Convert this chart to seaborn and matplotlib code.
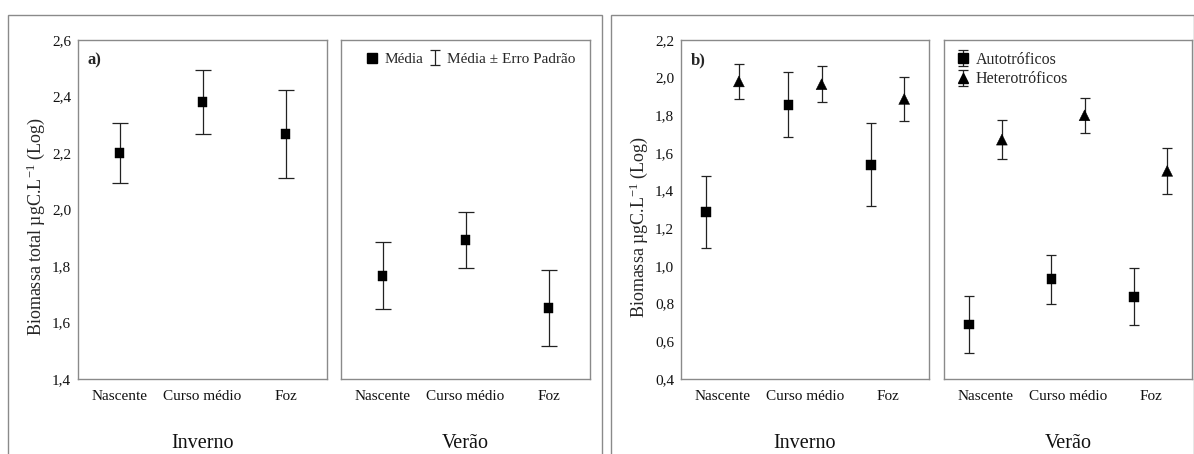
import numpy as np
import pandas as pd
import matplotlib
matplotlib.use("Agg")
import matplotlib.pyplot as plt
import seaborn as sns
from matplotlib.lines import Line2D
from matplotlib.patches import Rectangle

# ---------------- data ----------------
sites = ["Nascente", "Curso médio", "Foz"]
seasons = ["Inverno", "Verão"]

total_mean_inv = [2.200, 2.380, 2.266]
total_se_inv = [0.105, 0.114, 0.156]
total_mean_ver = [1.766, 1.892, 1.651]
total_se_ver = [0.118, 0.100, 0.135]

auto_mean_inv = [1.288, 1.857, 1.538]
auto_se_inv = [0.192, 0.172, 0.220]
het_mean_inv = [1.980, 1.965, 1.887]
het_se_inv = [0.093, 0.096, 0.119]
auto_mean_ver = [0.689, 0.929, 0.837]
auto_se_ver = [0.153, 0.129, 0.152]
het_mean_ver = [1.671, 1.800, 1.505]
het_se_ver = [0.105, 0.092, 0.123]

ylim_a = (1.4, 2.6)
ylim_b = (0.4, 2.2)

# ---------------- style ----------------
sns.set_theme(style="white")
plt.rcParams["font.family"] = ["Liberation Serif", "DejaVu Serif"]
plt.rcParams["mathtext.default"] = "regular"

SPINE = "#8a8a8a"
EBC = "#222222"
TICK_FS = 11
YLABEL_FS = 13
SEASON_FS = 14.5

def build(means_inv, se_inv, means_ver, se_ver, group):
    rows = []
    for season, m, s in (("Inverno", means_inv, se_inv), ("Verão", means_ver, se_ver)):
        for i, site in enumerate(sites):
            rows.append(dict(season=season, site=site, idx=i, group=group, mean=m[i], se=s[i]))
    return rows

df_a = pd.DataFrame(build(total_mean_inv, total_se_inv, total_mean_ver, total_se_ver, "Média"))
df_b = pd.DataFrame(build(auto_mean_inv, auto_se_inv, auto_mean_ver, auto_se_ver, "Autotróficos")
                    + build(het_mean_inv, het_se_inv, het_mean_ver, het_se_ver, "Heterotróficos"))
offsets = {"Média": 0.0, "Autotróficos": -0.2, "Heterotróficos": 0.2}
df_a["x"] = df_a["idx"] + df_a["group"].map(offsets)
df_b["x"] = df_b["idx"] + df_b["group"].map(offsets)

fig = plt.figure(figsize=(11.94, 4.54), dpi=100)

# outer frames
for x0, x1 in ((8, 602), (611, 1193.5)):
    fig.patches.append(Rectangle((x0 / 1194, -0.1), (x1 - x0) / 1194, (454 - 15) / 454 + 0.1,
                                 transform=fig.transFigure, fill=False,
                                 edgecolor=SPINE, linewidth=1.0, zorder=0))

bottom = 1 - 379 / 454
height = (379 - 40) / 454
axes_px = {"a": [(78, 327), (341, 590)], "b": [(681, 929), (944, 1192)]}

def fmt(v):
    return f"{v:.1f}".replace(".", ",")

def style_axis(ax, ylim, show_y, ylabel, season):
    ax.set_xlim(-0.5, 2.5)
    ax.set_ylim(*ylim)
    ax.set_xticks(range(len(sites)))
    ax.set_xticklabels(sites, fontsize=TICK_FS)
    ticks = np.round(np.arange(ylim[0], ylim[1] + 1e-9, 0.2), 1)
    ax.set_yticks(ticks)
    if show_y:
        ax.set_yticklabels([fmt(t) for t in ticks], fontsize=TICK_FS)
        ax.set_ylabel(ylabel, fontsize=YLABEL_FS)
    else:
        ax.set_yticklabels([])
        ax.set_ylabel("")
    ax.set_xlabel("")
    ax.tick_params(axis="x", length=0, pad=8, colors="#111111")
    ax.tick_params(axis="y", length=0, pad=5, colors="#111111")
    for sp in ax.spines.values():
        sp.set_color(SPINE)
        sp.set_linewidth(1.0)
        sp.set_visible(True)
    ax.grid(False)
    ax.set_facecolor("white")
    ax.text(0.5, -0.19, season, transform=ax.transAxes, ha="center", va="center",
            fontsize=SEASON_FS, color="#111111")

marker_map = {"Média": "s", "Autotróficos": "s", "Heterotróficos": "^"}
size_map = {"Média": 50, "Autotróficos": 50, "Heterotróficos": 62}

handles = {}
for panel, df, ylim, ylabel, cap in (
        ("a", df_a, ylim_a, "Biomassa total µgC.L$^{-1}$ (Log)", 6),
        ("b", df_b, ylim_b, "Biomassa µgC.L$^{-1}$ (Log)", 3.5)):
    for k, season in enumerate(seasons):
        x0, x1 = axes_px[panel][k]
        ax = fig.add_axes([x0 / 1194, bottom, (x1 - x0) / 1194, height])
        sub = df[df["season"] == season]
        for grp, g in sub.groupby("group", sort=False):
            eb = ax.errorbar(g["x"], g["mean"], yerr=g["se"], fmt="none", ecolor=EBC,
                             elinewidth=0.9, capsize=cap, capthick=0.9, zorder=2)
            handles[grp] = eb
        sns.scatterplot(data=sub, x="x", y="mean", style="group", markers=marker_map,
                        hue="group", palette={g: "black" for g in sub["group"].unique()},
                        size="group", sizes=size_map, edgecolor="black", linewidth=0.3,
                        legend=False, ax=ax, zorder=3)
        style_axis(ax, ylim, k == 0, ylabel, season)
        if k == 0:
            ax.yaxis.set_label_coords(-0.124, 0.45)
            ax.text(0.038, 0.941, panel + ")", transform=ax.transAxes, fontsize=12,
                    fontweight="bold", ha="left", va="center")
        else:
            if panel == "a":
                h_mean = Line2D([], [], marker="s", ls="", color="black", markersize=6.5)
                # legend-only glyph (no visible data): narrow capped bar
                eb_leg = ax.errorbar([np.nan], [np.nan], yerr=[0.1], fmt="none",
                                     ecolor=EBC, elinewidth=0.9, capsize=3.5, capthick=0.9)
                ax.legend([h_mean, eb_leg], ["Média", "Média ± Erro Padrão"],
                          loc="upper right", bbox_to_anchor=(0.99, 1.0), ncol=2,
                          frameon=False, fontsize=TICK_FS, handlelength=0.8,
                          handletextpad=0.4, columnspacing=0.35, borderaxespad=0.4)
            else:
                hA = (handles["Autotróficos"],
                      Line2D([], [], marker="s", ls="", color="black", markersize=6.5))
                hH = (handles["Heterotróficos"],
                      Line2D([], [], marker="^", ls="", color="black", markersize=7))
                ax.legend([hA, hH], ["Autotróficos", "Heterotróficos"],
                          loc="upper left", frameon=False, fontsize=11.5,
                          handlelength=0.9, handletextpad=0.35, labelspacing=0.2,
                          borderaxespad=0.35)

fig.savefig("out.png", dpi=100, facecolor="white")
